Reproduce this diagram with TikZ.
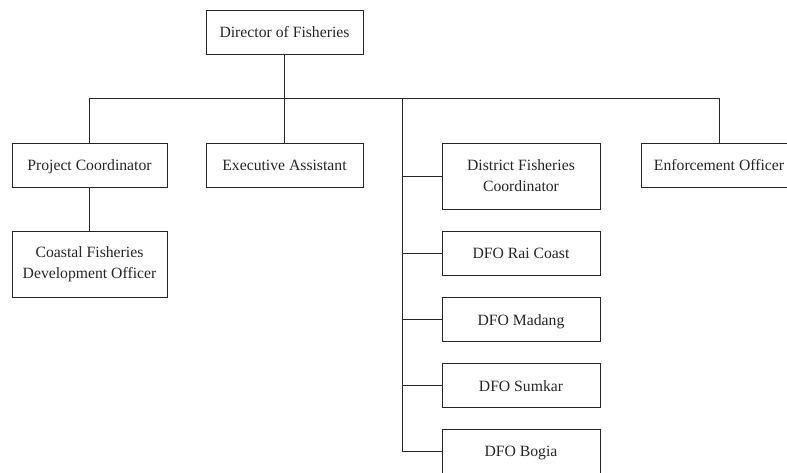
\documentclass[tikz,border=0pt]{standalone}
\usepackage{fontspec}
\setmainfont{Liberation Serif}
\usepackage{tikz}
\usetikzlibrary{positioning,calc}

\tikzset{
  unit/.style={draw=black!85, line width=0.9pt, align=center, inner sep=0pt,
    font=\fontsize{15.7}{21}\selectfont, text=black!85},
  oneline/.style={unit, text height=13.5pt, text depth=2pt, minimum height=44},
  link/.style={draw=black!85, line width=0.9pt}
}

\begin{document}
\begin{tikzpicture}[x=1pt, y=-1pt]
\useasboundingbox (0,0) rectangle (787,472);
\clip (0,0) rectangle (787,472);
% Top level
\node[oneline, minimum width=157] (dir) at (284.5,32) {Director of Fisheries};
% Second row
\node[oneline, minimum width=155] (pc) at (89.5,165) {Project Coordinator};
\node[oneline, minimum width=157] (ea) at (284.5,165) {Executive Assistant};
\node[oneline, minimum width=156] (enf) at (719,165) {Enforcement Officer};
\node[unit, minimum width=155, minimum height=66] (cfdo) at (89.5,264) {Coastal Fisheries\\Development Officer};
% District column
\node[unit, minimum width=158, minimum height=66] (dfc) at (521,176) {District Fisheries\\Coordinator};
\foreach \name/\txt/\y in {rai/DFO Rai Coast/253, madang/DFO Madang/319.5, sumkar/DFO Sumkar/385.5, bogia/DFO Bogia/451}{
  \node[oneline, minimum width=158] (\name) at (521,\y) {\txt};
}
% Connectors
\coordinate (bus) at (284,98);
\coordinate (dbus) at (402,98);
\draw[link] (dir.south) -- (ea.north);
\draw[link] (pc.north) -- (pc.north |- bus) -- (enf.north |- bus) -- (enf.north);
\draw[link] (pc.south) -- (cfdo.north);
\draw[link] (dbus) |- (bogia.west);
\foreach \n in {dfc,rai,madang,sumkar}{
  \draw[link] (dbus |- \n.west) -- (\n.west);
}
\end{tikzpicture}
\end{document}
